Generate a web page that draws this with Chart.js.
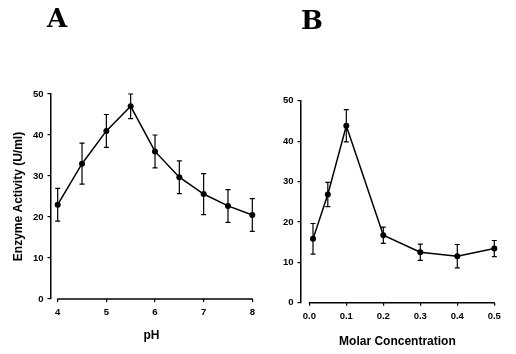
<!DOCTYPE html>
<html>
<head>
<meta charset="utf-8">
<script src="https://cdn.jsdelivr.net/npm/chart.js@4"></script>
<style>
html,body{margin:0;padding:0;background:#fff;}
#wrap{position:relative;width:516px;height:354px;overflow:hidden;}
.panel{position:absolute;top:0;height:354px;}
#pa{left:0;width:262px;}
#pb{left:258px;width:258px;}
.tag{position:absolute;font:bold 26px "DejaVu Serif",serif;line-height:26px;color:#000;}
</style>
</head>
<body>
<div id="wrap">
  <div class="panel" id="pa"><canvas id="chartA"></canvas></div>
  <div class="panel" id="pb"><canvas id="chartB"></canvas></div>
  <div class="tag" style="left:47px;top:5px">A</div>
  <div class="tag" style="left:301px;top:7px">B</div>
</div>
<script>
// ===== Data =====
const phValues   = [4, 4.5, 5, 5.5, 6, 6.5, 7, 7.5, 8];
const phActivity = [23, 33, 41, 47, 36, 29.7, 25.6, 22.7, 20.5];
const phError    = [4, 5, 4, 3, 4, 4, 5, 4, 4];
const phTicks    = [4, 5, 6, 7, 8];

const molarValues   = [0.01, 0.05, 0.1, 0.2, 0.3, 0.4, 0.5];
const molarActivity = [15.8, 26.8, 43.8, 16.7, 12.5, 11.5, 13.4];
const molarError    = [3.8, 3, 4, 2, 2, 2.9, 2];
const molarTicks    = [0, 0.1, 0.2, 0.3, 0.4, 0.5];

const activityTicks = [0, 10, 20, 30, 40, 50];

Chart.defaults.font.family = '"Liberation Sans", Arial, sans-serif';
Chart.defaults.color = '#000';

// ===== Plugins =====
const errorBars = {
  id: 'errorBars',
  beforeDatasetsDraw(chart){
    const {ctx, scales:{x, y}} = chart;
    const ds = chart.data.datasets[0];
    ctx.save(); ctx.strokeStyle = '#000'; ctx.lineWidth = 1.2;
    ds.data.forEach((p, i)=>{
      const e = ds.errors[i];
      const px = x.getPixelForValue(p.x);
      const lo = y.getPixelForValue(p.y - e), hi = y.getPixelForValue(p.y + e);
      ctx.beginPath();
      ctx.moveTo(px, lo); ctx.lineTo(px, hi);
      ctx.moveTo(px-2.5, lo); ctx.lineTo(px+2.5, lo);
      ctx.moveTo(px-2.5, hi); ctx.lineTo(px+2.5, hi);
      ctx.stroke();
    });
    ctx.restore();
  }
};
// x axis line only runs from first to last tick (not joined to y axis)
const xBaseline = {
  id: 'xBaseline',
  beforeDatasetsDraw(chart){
    const {ctx, chartArea, scales:{x}} = chart;
    const t = x.ticks;
    ctx.save(); ctx.strokeStyle = '#000'; ctx.lineWidth = 1.6;
    ctx.beginPath();
    ctx.moveTo(x.getPixelForValue(t[0].value) - 0.5, chartArea.bottom);
    ctx.lineTo(x.getPixelForValue(t[t.length-1].value) + 0.5, chartArea.bottom);
    ctx.stroke(); ctx.restore();
  }
};

// ===== Panel builder =====
function makePanel(el, p){
  const bold = (size)=>({size, weight:'bold'});
  return new Chart(el, {
    type: 'line',
    data: {
      datasets: [{
        data: p.xs.map((v, i)=>({x: v, y: p.ys[i]})),
        errors: p.errs,
        borderColor: '#000', borderWidth: 1.5, tension: 0,
        pointRadius: 3, pointBackgroundColor: '#000', pointBorderWidth: 0,
        clip: false
      }]
    },
    options: {
      responsive: true, maintainAspectRatio: false, animation: false,
      layout: {padding: p.padding},
      plugins: {legend: {display: false}, tooltip: {enabled: false}},
      scales: {
        x: {
          type: 'linear', min: p.xMin, max: p.xMax,
          afterBuildTicks: s=>{ s.ticks = p.xTicks.map(v=>({value: v})); },
          afterFit: s=>{ s.height = p.xHeight; },
          ticks: {font: bold(9.5), padding: p.xTickPad, maxRotation: 0, autoSkip: false, callback: p.xFmt},
          grid: {drawOnChartArea: false, tickLength: 3, color: '#000', lineWidth: 1.2},
          border: {display: false},
          title: {display: true, text: p.xTitle, font: bold(12), padding: {top: 0, bottom: p.xTitlePad}}
        },
        y: {
          min: 0, max: 50,
          afterBuildTicks: s=>{ s.ticks = activityTicks.map(v=>({value: v})); },
          afterFit: s=>{ s.width = p.yWidth; },
          ticks: {font: bold(9.5), padding: 4},
          grid: {drawOnChartArea: false, tickLength: 3, color: '#000', lineWidth: 1.2},
          border: {display: true, color: '#000', width: 1.5},
          title: {display: !!p.yTitle, text: p.yTitle || '', font: bold(12), padding: {top: 11.5, bottom: 0}}
        }
      }
    },
    plugins: [xBaseline, errorBars]
  });
}

window.addEventListener('DOMContentLoaded', ()=>{
  makePanel(document.getElementById('chartA'), {
    xs: phValues, ys: phActivity, errs: phError, xTicks: phTicks,
    xMin: 3.852, xMax: 8, xFmt: v=>String(v), xTitle: 'pH',
    yTitle: 'Enzyme Activity (U/ml)',
    padding: {top: 94, right: 9.7, left: 0, bottom: 0},
    yWidth: 50.5, xHeight: 55, xTickPad: 5, xTitlePad: 11.3
  });
  makePanel(document.getElementById('chartB'), {
    xs: molarValues, ys: molarActivity, errs: molarError, xTicks: molarTicks,
    xMin: -0.0238, xMax: 0.5, xFmt: v=>v.toFixed(1), xTitle: 'Molar Concentration',
    padding: {top: 100.7, right: 21.7, left: 0, bottom: 0},
    yWidth: 42.5, xHeight: 51.3, xTickPad: 5, xTitlePad: 4.8
  });
});
</script>
</body>
</html>
